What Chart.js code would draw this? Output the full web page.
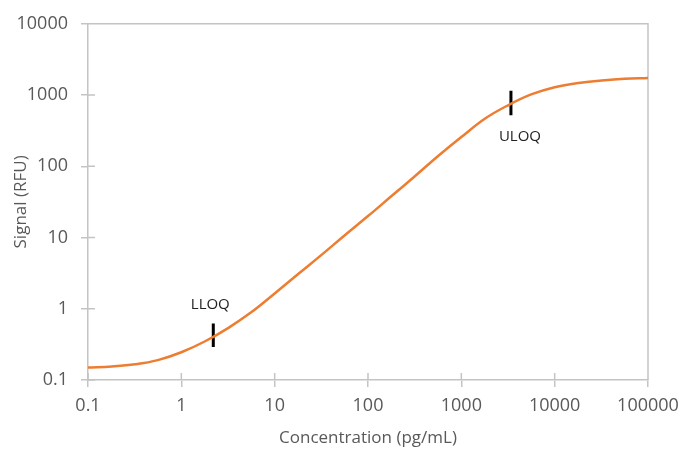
<!DOCTYPE html>
<html>
<head>
<meta charset="utf-8">
<script src="https://cdn.jsdelivr.net/npm/chart.js@4"></script>
<style>
  html, body { margin: 0; padding: 0; background: #fff; }
  #wrap { width: 694px; height: 466px; }
</style>
</head>
<body>
<div id="wrap"><canvas id="myChart"></canvas></div>
<script>
// values (pg/mL vs RFU)
let conc   = [0.1, 0.18, 0.32, 0.56, 1, 1.8, 3.2, 5.6, 10, 18, 32, 56, 100, 180, 320, 560,
              1000, 1800, 3200, 5600, 10000, 18000, 32000, 56000, 100000];
let signal = [0.15, 0.155, 0.166, 0.19, 0.245, 0.35, 0.54, 0.89, 1.64, 3.1, 5.75, 10.7, 20, 38.5, 73, 138,
              257, 468, 724, 1020, 1290, 1480, 1600, 1690, 1740];

// LLOQ / ULOQ marks: concentration and the signal span of the little bar
let lloqX = 2.2, lloqSpan = [0.29, 0.62];
let uloqX = 3400, uloqSpan = [520, 1150];

let xTicks = [0.1, 1, 10, 100, 1000, 10000, 100000];
let yTicks = [0.1, 1, 10, 100, 1000, 10000];

let gray = '#595959';
let axisGray = '#c4c4c4';

function pts(xs, ys) {
  return xs.map((x, i) => ({x: x, y: ys[i]}));
}

// frame on top/right and ticks that cross the axes, plus marker labels
let extras = {
  id: 'extras',
  beforeDatasetsDraw(chart) {
    let {ctx, chartArea: a, scales: {x, y}} = chart;
    ctx.save();
    ctx.strokeStyle = axisGray;
    ctx.lineWidth = 1.5;
    ctx.beginPath();
    ctx.moveTo(a.left, a.top); ctx.lineTo(a.right, a.top); ctx.lineTo(a.right, a.bottom);
    xTicks.forEach(v => { let px = x.getPixelForValue(v); ctx.moveTo(px, a.bottom); ctx.lineTo(px, a.bottom - 7); });
    yTicks.forEach(v => { let py = y.getPixelForValue(v); ctx.moveTo(a.left, py); ctx.lineTo(a.left + 7, py); });
    ctx.stroke();
    ctx.restore();
  },
  afterDatasetsDraw(chart) {
    let {ctx, scales: {x, y}} = chart;
    ctx.save();
    ctx.fillStyle = '#222';
    ctx.font = '15px "Open Sans"';
    ctx.textAlign = 'center';
    ctx.textBaseline = 'middle';
    ctx.fillText('LLOQ', x.getPixelForValue(lloqX) - 3, y.getPixelForValue(lloqSpan[1]) - 19);
    ctx.fillText('ULOQ', x.getPixelForValue(uloqX) + 9, y.getPixelForValue(uloqSpan[0]) + 21);
    ctx.restore();
  }
};

let ctx = document.getElementById('myChart').getContext('2d');

let chart = new Chart(ctx, {
  type: 'line',
  data: {
    datasets: [{
      data: pts(conc, signal),
      borderColor: '#ed7d31',
      borderWidth: 2.5,
      pointRadius: 0,
      tension: 0.4
    }, {
      data: pts([lloqX, lloqX], lloqSpan),
      borderColor: '#000',
      borderWidth: 3,
      pointRadius: 0
    }, {
      data: pts([uloqX, uloqX], uloqSpan),
      borderColor: '#000',
      borderWidth: 3,
      pointRadius: 0
    }]
  },
  options: {
    responsive: true,
    maintainAspectRatio: false,
    animation: false,
    layout: { padding: { top: 20, right: 46, left: 0, bottom: 0 } },
    plugins: { legend: { display: false }, tooltip: { enabled: false } },
    scales: {
      x: {
        type: 'logarithmic',
        min: 0.1, max: 100000,
        afterFit: s => { s.height = 86; },
        afterBuildTicks: s => { s.ticks = xTicks.map(v => ({value: v})); },
        grid: { drawOnChartArea: false, color: axisGray, lineWidth: 1.5, tickLength: 7 },
        border: { color: axisGray, width: 1.5 },
        ticks: {
          color: gray, padding: 8, maxRotation: 0, autoSkip: false,
          font: { family: 'Open Sans', size: 18 },
          callback: v => String(v)
        },
        title: {
          display: true, text: 'Concentration (pg/mL)', color: gray,
          font: { family: 'Open Sans', size: 17 }, padding: { top: 0, bottom: 18 }
        }
      },
      y: {
        type: 'logarithmic',
        min: 0.1, max: 10000,
        afterFit: s => { s.width = 88; },
        afterBuildTicks: s => { s.ticks = yTicks.map(v => ({value: v})); },
        grid: { drawOnChartArea: false, color: axisGray, lineWidth: 1.5, tickLength: 7 },
        border: { color: axisGray, width: 1.5 },
        ticks: {
          color: gray, padding: 13, autoSkip: false,
          font: { family: 'Open Sans', size: 18 },
          callback: v => String(v)
        },
        title: {
          display: true, text: 'Signal (RFU)', color: gray,
          font: { family: 'Open Sans', size: 17 }, padding: { top: 11, bottom: 0 }
        }
      }
    }
  },
  plugins: [extras]
});
</script>
</body>
</html>
